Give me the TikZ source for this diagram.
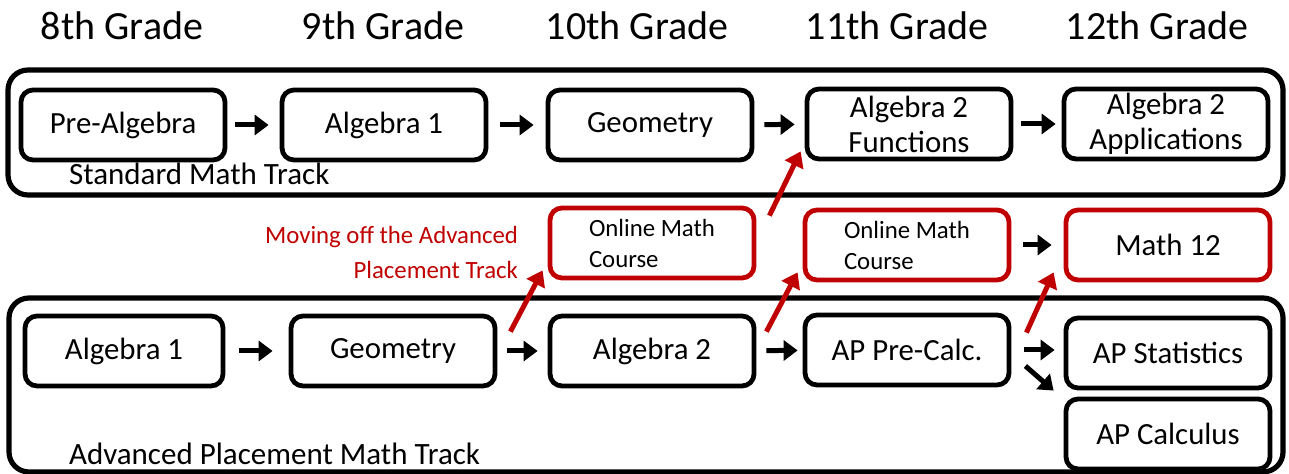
\documentclass[tikz,border=0pt]{standalone}
\usepackage{fontspec}
\setmainfont{Carlito}
\usetikzlibrary{arrows.meta}
\definecolor{trackred}{RGB}{192,0,0}

\tikzset{
  course/.style={draw, line width=2.4pt, rounded corners=6pt, minimum width=102pt,
    minimum height=35pt, inner sep=1pt, align=center, font=\fontsize{15.4}{17.5}\selectfont},
  online/.style={course, draw=trackred, align=left, font=\fontsize{12.4}{15.5}\selectfont},
  track/.style={line width=2.6pt, rounded corners=10pt},
  blk/.style={-{Triangle[length=7pt,width=10pt]}, line width=2.5pt},
  redarr/.style={-{Triangle[length=7.5pt,width=10pt]}, line width=2.5pt, trackred},
  grade/.style={anchor=base, font=\fontsize{20}{24}\selectfont}
}

\begin{document}
\begin{tikzpicture}[x=0.5pt, y=-0.5pt]
    \useasboundingbox (0,0) rectangle (1289,474);

    % grade headings
    \node[grade] (g8) at (122,40) {8th Grade};
    \node[grade] (g9) at (383,40) {9th Grade};
    \node[grade] (g10) at (637,40) {10th Grade};
    \node[grade] (g11) at (897,40) {11th Grade};
    \node[grade] (g12) at (1157,40) {12th Grade};

    % the two tracks
    \draw[track] (8,70) rectangle (1283,195);
    \draw[track] (9,298) rectangle (1283,472);
    \node[anchor=west, font=\fontsize{15.5}{18}\selectfont] (stdlabel) at (62,174) {Standard Math Track};
    \node[anchor=west, font=\fontsize{15.5}{18}\selectfont] (aplabel) at (62,454) {Advanced Placement Math Track};

    % standard track
    \node[course] (prealg) at (123,125) {Pre-Algebra};
    \node[course] (stdalga) at (384,125) {Algebra 1};
    \node[course] (stdgeo) at (650,125) {Geometry};
    \node[course] (algfn) at (909,124) {Algebra 2\\Functions};
    \node[course] (algapp) at (1166,124) {Algebra 2\\Applications};

    \draw[blk, shorten <=4pt, shorten >=5.5pt] (prealg) -- (stdalga);
    \draw[blk, shorten <=6pt, shorten >=6pt] (stdalga) -- (stdgeo);
    \draw[blk, shorten <=5pt, shorten >=5pt] (stdgeo) -- (algfn);
    \draw[blk, shorten <=4pt, shorten >=3pt] (algfn) -- (algapp);

    % off-track courses
    \node[online] (onlinea) at (652,243) {Online Math\\Course};
    \node[online] (onlineb) at (907,245) {Online Math\\Course};
    \node[course, draw=trackred] (mathxii) at (1168,245) {Math 12};
    \draw[blk, shorten <=6pt, shorten >=6pt] (onlineb) -- (mathxii);

    \node[anchor=east, align=right, text=trackred, font=\fontsize{12.4}{17.5}\selectfont] (offtrack) at (525,252)
      {Moving off the Advanced\\Placement Track};

    % advanced placement track
    \node[course, minimum width=99pt] (apalga) at (124,351) {Algebra 1};
    \node[course] (apgeo) at (393,351) {Geometry};
    \node[course] (apalgb) at (652,351) {Algebra 2};
    \node[course] (precalc) at (907,350) {AP Pre-Calc.};
    \node[course] (apstat) at (1168,353) {AP Statistics};
    \node[course] (apcalc) at (1168,434) {AP Calculus};

    \draw[blk, shorten <=7pt, shorten >=8pt] (apalga) -- (apgeo);
    \draw[blk, shorten <=5pt, shorten >=5pt] (apgeo) -- (apalgb);
    \draw[blk, shorten <=5pt, shorten >=2.5pt] (apalgb) -- (precalc);
    \draw[blk, shorten <=6.5pt, shorten >=4.5pt] (precalc.east) -- (apstat.west |- precalc.east);
    \draw[blk] ([xshift=7pt,yshift=-8pt]precalc.east) -- ([xshift=-5pt,yshift=3pt]apcalc.north west);

    % moving off the track
    \draw[redarr] ([xshift=6.5pt,yshift=-9pt]apgeo.north east) -- ([xshift=-2.5pt,yshift=5pt]onlinea.south west);
    \draw[redarr] ([xshift=6.5pt,yshift=-5pt]onlinea.north east) -- ([xshift=-2pt,yshift=5pt]algfn.south west);
    \draw[redarr] ([xshift=5pt,yshift=-9pt]apalgb.north east) -- ([xshift=-2.5pt,yshift=5pt]onlineb.south west);
    \draw[redarr] ([xshift=7.5pt,yshift=-10pt]precalc.north east) -- ([xshift=-5pt,yshift=5pt]mathxii.south west);
\end{tikzpicture}
\end{document}
